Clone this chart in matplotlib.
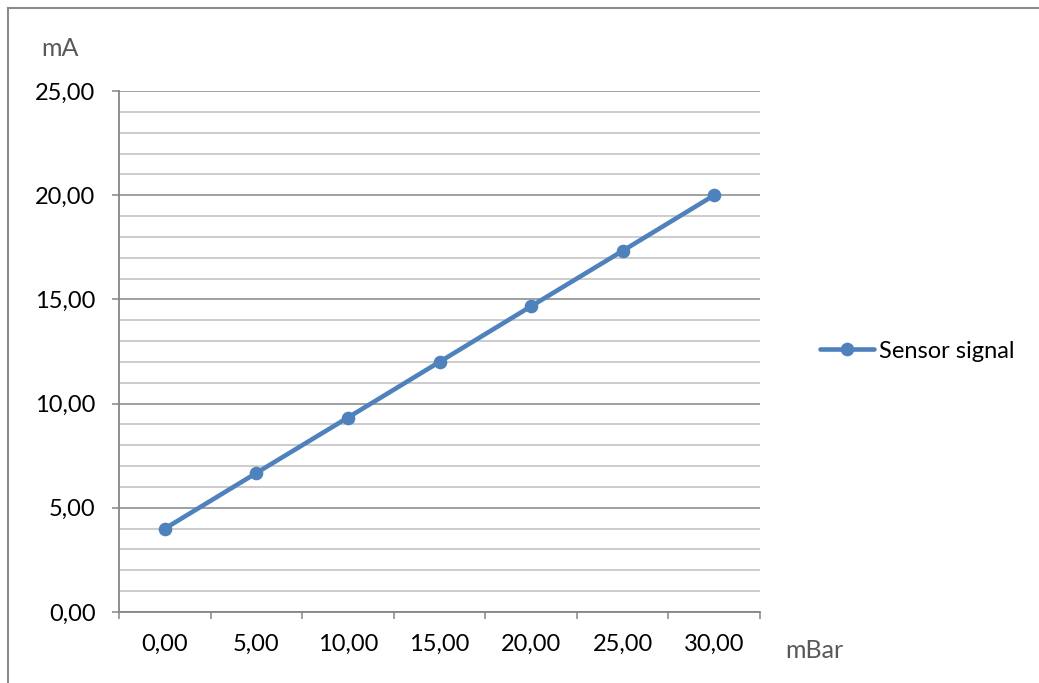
import matplotlib
matplotlib.use("Agg")
import matplotlib.pyplot as plt
from matplotlib.lines import Line2D
from matplotlib.ticker import FixedLocator, MultipleLocator, FuncFormatter

plt.rcParams['font.family'] = ['Lato', 'DejaVu Sans']

# Pressure categories (mBar) and the sensor output (mA)
pressure = [0.0, 5.0, 10.0, 15.0, 20.0, 25.0, 30.0]
current = [4.00, 6.67, 9.33, 12.00, 14.67, 17.33, 20.00]
series_name = "Sensor signal"
y_label = "mA"
x_label = "mBar"

line_color = "#4F81BD"
major_grid = "#868686"
minor_grid = "#BFBFBF"
text_color = "#000000"
label_gray = "#595959"
fs = 17

W, H = 1039, 683
fig = plt.figure(figsize=(W / 100, H / 100), dpi=100)

# chart frame (left and top edges visible)
fig.add_artist(Line2D([8 / W, 8 / W], [0, 1 - 8 / H], transform=fig.transFigure,
                      color="#8C8C8C", lw=1.5))
fig.add_artist(Line2D([8 / W, 1], [1 - 8 / H, 1 - 8 / H], transform=fig.transFigure,
                      color="#8C8C8C", lw=1.5))

left, right, top, bottom = 119, 760, 91, 612
ax = fig.add_axes([left / W, 1 - bottom / H, (right - left) / W, (bottom - top) / H])

xpos = list(range(len(pressure)))
ax.plot(xpos, current, color=line_color, lw=3.3, marker="o", ms=8.8,
        markeredgecolor=line_color, markerfacecolor=line_color,
        label=series_name, zorder=5, solid_capstyle="round")

ax.set_xlim(-0.5, len(pressure) - 0.5)
ax.set_ylim(0, 25)

# y axis: major ticks every 5, minor gridlines every 1
ax.yaxis.set_major_locator(MultipleLocator(5))
ax.yaxis.set_minor_locator(MultipleLocator(1))
ax.yaxis.set_major_formatter(FuncFormatter(lambda v, p: f"{v:.2f}".replace(".", ",")))
ax.grid(which="major", axis="y", color=major_grid, lw=1.1)
ax.grid(which="minor", axis="y", color=minor_grid, lw=1.1)
ax.tick_params(axis="y", which="major", direction="out", length=5, width=1.1,
               color=major_grid, pad=12, labelsize=fs, labelcolor=text_color)
ax.tick_params(axis="y", which="minor", length=0)

# x axis: tick marks between categories, labels at category centres
ax.xaxis.set_major_locator(FixedLocator([i - 0.5 for i in range(len(pressure) + 1)]))
ax.xaxis.set_minor_locator(FixedLocator(xpos))
ax.xaxis.set_major_formatter(FuncFormatter(lambda v, p: ""))
ax.xaxis.set_minor_formatter(FuncFormatter(
    lambda v, p: f"{pressure[int(round(v))]:.2f}".replace(".", ",")))
ax.tick_params(axis="x", which="major", direction="out", length=5, width=1.1,
               color=major_grid)
ax.tick_params(axis="x", which="minor", length=0, pad=16, labelsize=fs,
               labelcolor=text_color)

for s in ("top", "right"):
    ax.spines[s].set_visible(False)
for s in ("left", "bottom"):
    ax.spines[s].set_color(major_grid)
    ax.spines[s].set_linewidth(1.3)
ax.set_axisbelow(True)

fig.text(60 / W, 1 - 48 / H, y_label, ha="center", va="center", fontsize=fs + 1,
         color=label_gray)
fig.text(814 / W, 1 - 651 / H, x_label, ha="center", va="center", fontsize=fs + 1,
         color=label_gray)

fig.legend(loc="center left", bbox_to_anchor=(820 / W, 1 - 351 / H), frameon=False,
           borderpad=0, borderaxespad=0, handlelength=2.3, handletextpad=0.2,
           fontsize=fs)

fig.savefig("out.png", dpi=100)
